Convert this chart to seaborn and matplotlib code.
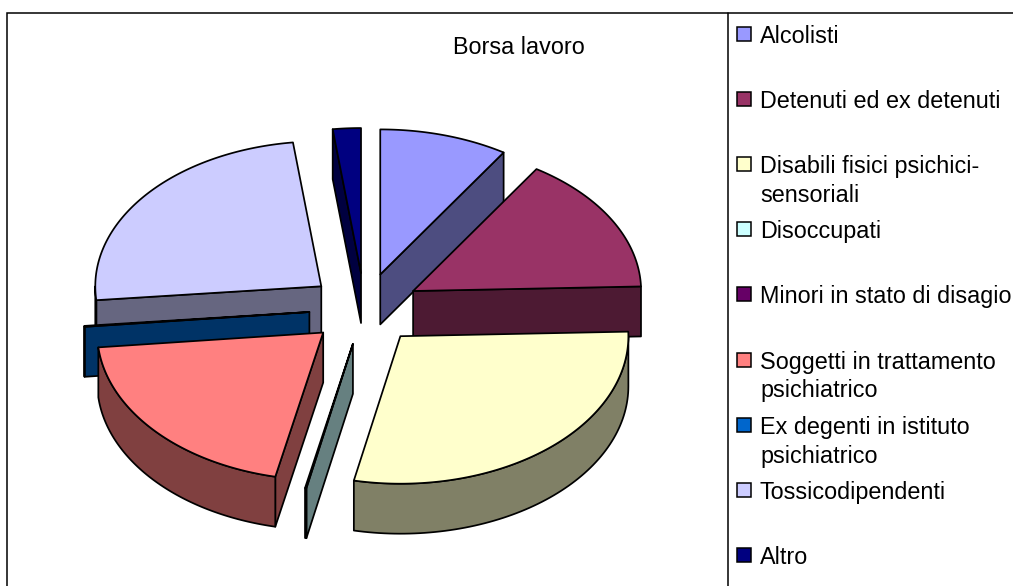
import numpy as np
import matplotlib
matplotlib.use("Agg")
import matplotlib.pyplot as plt
from matplotlib.patches import Polygon, Rectangle
import seaborn as sns

categories = ["Alcolisti", "Detenuti ed ex detenuti", "Disabili fisici psichici-\nsensoriali",
              "Disoccupati", "Minori in stato di disagio", "Soggetti in trattamento\npsichiatrico",
              "Ex degenti in istituto\npsichiatrico", "Tossicodipendenti", "Altro"]
values = [9.1, 15.4, 28.8, 0.1, 0.0, 20.0, 0.1, 24.5, 2.0]
colors = ["#9999FF", "#993366", "#FFFFCC", "#CCFFFF", "#660066",
          "#FF8080", "#0066CC", "#CCCCFF", "#000080"]
title = "Borsa lavoro"

sns.set_theme(style="white")
plt.rcParams["font.family"] = ["Liberation Sans", "DejaVu Sans"]
palette = sns.color_palette(colors)

W, H = 1013, 586
fig = plt.figure(figsize=(W / 100, H / 100), dpi=100, facecolor="white")
ax = fig.add_axes([0, 0, 1, 1])
ax.set_xlim(0, W)
ax.set_ylim(H, 0)
ax.axis("off")

CX, CY, RX_RIGHT, RX_LEFT, RY_BACK, RY_FRONT, DEPTH, EXPLODE = 364.5, 308.5, 228, 226, 145, 147.5, 50, 0.245
LW = 1.25


def pt(theta, cx, cy, k=1.0):
    c, s = np.cos(theta), np.sin(theta)
    ry = RY_BACK if c > 0 else RY_FRONT
    rx = RX_RIGHT if s > 0 else RX_LEFT
    return (cx + k * rx * s, cy - k * ry * c)


def poly(points, color, z):
    ax.add_patch(Polygon(points, closed=True, facecolor=color, edgecolor="black",
                         linewidth=LW, joinstyle="round", zorder=z))


total = sum(values)
edges = np.radians(np.concatenate([[0], np.cumsum(values)]) * 360 / total)
slices = [(i, edges[i], edges[i + 1]) for i in range(len(values)) if values[i] > 0]
slices.sort(key=lambda s: -np.cos((s[1] + s[2]) / 2))

for z, (i, a, b) in enumerate(slices):
    m = (a + b) / 2
    cx, cy = pt(m, CX, CY, EXPLODE)
    face = palette[i]
    dark = tuple(c * 0.5 for c in face)
    base = 10 + z * 3
    down = lambda p: (p[0], p[1] + DEPTH)
    # cut faces
    for ang, visible in ((a, np.pi < a < 2 * np.pi), (b, 0 < b < np.pi)):
        if visible:
            p = pt(ang, cx, cy)
            poly([(cx, cy), p, down(p), (cx, cy + DEPTH)], dark, base)
    # outer wall
    lo, hi = max(a, np.pi / 2), min(b, 3 * np.pi / 2)
    if hi > lo:
        arc = [pt(t, cx, cy) for t in np.linspace(lo, hi, 80)]
        poly(arc + [down(p) for p in arc[::-1]], dark, base + 1)
    # top
    tt = np.linspace(a, b, 120)
    poly([(cx, cy)] + [pt(t, cx, cy) for t in tt], face, base + 2)

# frame
ax.plot([W, 7, 7], [13, 13, H], color="black", lw=1.1, zorder=50, solid_joinstyle="miter")
ax.plot([728, 728], [13, H], color="black", lw=1.1, zorder=50)

ax.text(519, 47, title, ha="center", va="center", fontsize=16.8, color="black")

# legend
for k, (name, col) in enumerate(zip(categories, palette)):
    yc = 34 + 65.1 * k
    ax.add_patch(Rectangle((737, yc - 7), 14, 14, facecolor=col, edgecolor="black",
                           linewidth=1.1, zorder=60))
    for j, line in enumerate(name.split("\n")):
        ax.text(760, yc + j * 29, line, ha="left", va="center_baseline", fontsize=16.8,
                color="black", zorder=60, clip_on=True)

fig.savefig("out.png", dpi=100, facecolor="white")
